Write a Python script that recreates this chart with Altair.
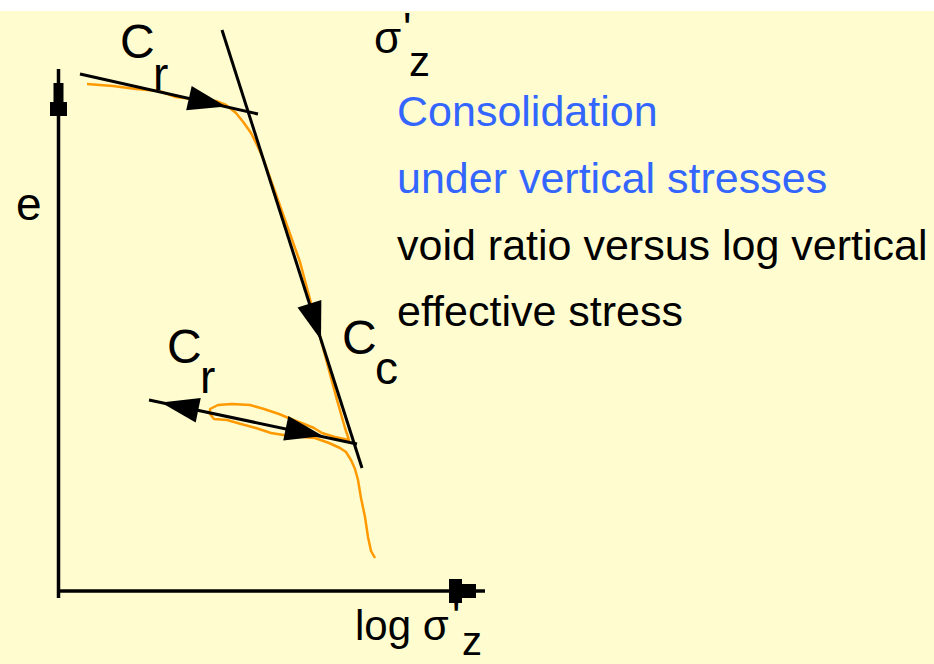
import altair as alt
import pandas as pd

W, H = 934, 664
FONT = "Liberation Sans, Arial, Helvetica, sans-serif"
BG = "#FFFDCF"
ORANGE = "#FF9900"
BLUE = "#3366FF"

# Drawing units: u grows with log sigma'_z (left to right), v grows downward (void ratio falls)
# Coordinate axes as segments (u1, v1) -> (u2, v2)
axis_u1 = [58.5, 57]
axis_v1 = [69, 591]
axis_u2 = [58.5, 485]
axis_v2 = [598, 591]

# Straight construction lines: upper Cr line, Cc virgin line, lower Cr line
line_u1 = [80, 222, 149]
line_v1 = [74, 30, 400]
line_u2 = [258, 362, 357]
line_v2 = [114, 468, 444]

# Measured e - log sigma'_z curve, in loading order (load, unload, reload, load)
curve_u = [87, 113, 136, 159, 176, 200, 216, 226, 236, 244, 251, 257, 263,
           300, 330, 337, 345, 349,
           335, 322, 314, 304, 291, 279, 264, 250, 232, 218, 210, 210, 214,
           227, 241, 256, 271, 290, 315, 329, 340, 346, 351, 355, 358, 361,
           365, 368, 371, 375]
curve_v = [84, 86, 89, 91, 97, 100, 101, 105, 113, 123, 133, 145, 158,
           262, 374, 400, 428, 440,
           437, 433, 428, 424, 419, 414, 409, 405, 404, 405, 409, 414, 419,
           420, 424, 428, 433, 436, 438, 443, 448, 452, 460, 469, 480, 498,
           517, 537, 551, 558]

# Arrowheads on the construction lines: tip position and heading (degrees)
arrow_u = [226, 321, 161, 323]
arrow_v = [106.5, 340, 402.5, 436]
arrow_angle = [12.7, 72.3, 191.7, 11.7]

# Labels: text, left edge, baseline, font size, colour
label_text = ["C", "r", "C", "r", "C", "c", "σ", "'", "z", "e", "log σ", "'", "z",
              "Consolidation", "under vertical stresses",
              "void ratio versus log vertical", "effective stress"]
label_u = [120, 153, 167, 200, 342, 375, 374, 403, 409, 16, 355, 452, 462,
           397, 397, 397, 397]
label_v = [58, 90, 363, 393, 354, 384, 53, 44, 76, 220, 640, 632, 655,
           126, 193, 260, 326]
label_size = [48, 46, 48, 46, 48, 46, 44, 44, 42, 46, 42, 44, 40,
              43, 43, 43, 43]
label_color = ["black"] * 13 + [BLUE, BLUE, "black", "black"]

xs = alt.Scale(domain=[0, W], range=[0, W], nice=False, zero=False)
ys = alt.Scale(domain=[0, H], range=[0, H], nice=False, zero=False)

axes_df = pd.DataFrame({"u1": axis_u1, "v1": axis_v1, "u2": axis_u2, "v2": axis_v2})
lines_df = pd.DataFrame({"u1": line_u1, "v1": line_v1, "u2": line_u2, "v2": line_v2})
curve_df = pd.DataFrame({"u": curve_u, "v": curve_v, "k": range(len(curve_u))})
arrow_df = pd.DataFrame({"u": arrow_u, "v": arrow_v, "a": arrow_angle})
label_df = pd.DataFrame({"t": label_text, "u": label_u, "v": label_v,
                         "s": label_size, "c": label_color})

band = alt.Chart(pd.DataFrame({"u1": [0], "u2": [W], "v1": [0], "v2": [11]})).mark_rect(
    color="white").encode(
    x=alt.X("u1:Q", scale=xs, axis=None), x2="u2:Q",
    y=alt.Y("v1:Q", scale=ys, axis=None), y2="v2:Q")

axes = alt.Chart(axes_df).mark_rule(color="black", strokeWidth=3.5).encode(
    x=alt.X("u1:Q", scale=xs, axis=None), x2="u2:Q",
    y=alt.Y("v1:Q", scale=ys, axis=None), y2="v2:Q")

# Stepped arrowheads at the ends of the axes
up_head = alt.Chart(pd.DataFrame({"u": [58.5], "v": [116]})).mark_point(
    shape="M-5,-33L5,-33L5,-14L8.5,-14L8.5,0L-8.5,0L-8.5,-14L-5,-14Z",
    size=4, filled=True, opacity=1, color="black", strokeWidth=0).encode(
    x=alt.X("u:Q", scale=xs, axis=None), y=alt.Y("v:Q", scale=ys, axis=None))

right_head = alt.Chart(pd.DataFrame({"u": [449], "v": [591]})).mark_point(
    shape="M0,-12L13,-12L13,-7L27,-7L27,7L13,7L13,12L0,12Z",
    size=4, filled=True, opacity=1, color="black", strokeWidth=0).encode(
    x=alt.X("u:Q", scale=xs, axis=None), y=alt.Y("v:Q", scale=ys, axis=None))

curve = alt.Chart(curve_df).mark_line(color=ORANGE, strokeWidth=2.5,
                                      strokeJoin="round").encode(
    x=alt.X("u:Q", scale=xs, axis=None), y=alt.Y("v:Q", scale=ys, axis=None),
    order="k:Q")

lines = alt.Chart(lines_df).mark_rule(color="black", strokeWidth=3).encode(
    x=alt.X("u1:Q", scale=xs, axis=None), x2="u2:Q",
    y=alt.Y("v1:Q", scale=ys, axis=None), y2="v2:Q")

heads = alt.Chart(arrow_df).mark_point(
    shape="M0,0L-38,-12.5L-38,12.5Z", size=4, filled=True, opacity=1,
    color="black", strokeWidth=0).encode(
    x=alt.X("u:Q", scale=xs, axis=None), y=alt.Y("v:Q", scale=ys, axis=None),
    angle=alt.Angle("a:Q", scale=None))

labels = alt.Chart(label_df).mark_text(
    align="left", baseline="alphabetic", font=FONT).encode(
    x=alt.X("u:Q", scale=xs, axis=None), y=alt.Y("v:Q", scale=ys, axis=None),
    text="t:N", size=alt.Size("s:Q", scale=None), color=alt.Color("c:N", scale=None))

chart = alt.layer(band, axes, up_head, right_head, curve, lines, heads, labels).properties(
    width=W, height=H, background=BG, padding=0,
    autosize=alt.AutoSizeParams(type="none"),
).configure_view(stroke=None)

chart.save("out.html", embed_options={"renderer": "svg", "actions": False})
